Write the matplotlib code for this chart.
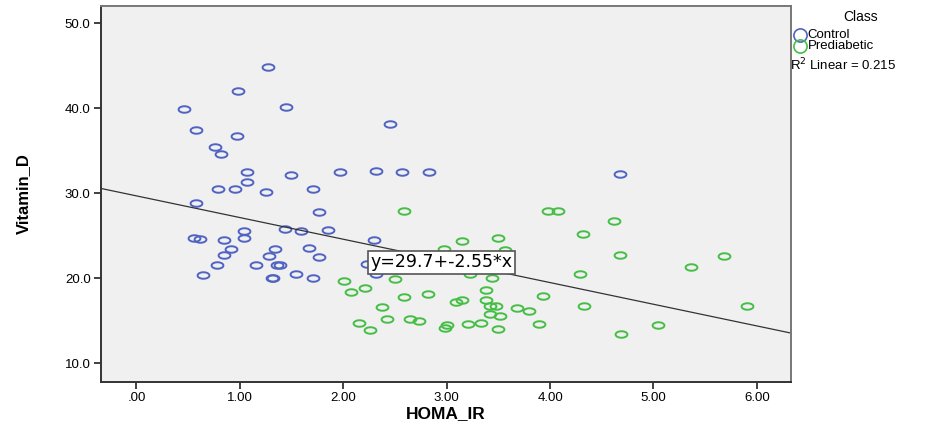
import numpy as np
import matplotlib.pyplot as plt
from matplotlib.path import Path
from matplotlib.lines import Line2D

plt.rcParams['font.family'] = ['Liberation Sans', 'DejaVu Sans']

# Control group (HOMA_IR, Vitamin_D)
control_x = [1.27, 0.98, 0.46, 1.45, 2.45, 0.58, 0.97, 0.76, 0.82, 1.07,
             1.49, 1.97, 2.32, 2.57, 2.83, 4.68, 1.07, 0.79, 0.95, 1.25,
             1.71, 0.58, 1.77, 1.04, 1.44, 1.59, 1.85, 0.56, 0.61, 0.85,
             1.04, 0.91, 1.34, 1.67, 0.85, 1.28, 1.77, 0.78, 1.16, 1.36,
             1.39, 0.64, 1.31, 1.32, 1.54, 1.71, 2.30, 2.23, 2.32]
control_y = [44.9, 42.0, 39.9, 40.1, 38.1, 37.5, 36.7, 35.5, 34.6, 32.5,
             32.1, 32.5, 32.6, 32.5, 32.5, 32.3, 31.3, 30.5, 30.5, 30.2,
             30.5, 28.9, 27.8, 25.6, 25.8, 25.6, 25.7, 24.7, 24.6, 24.5,
             24.7, 23.5, 23.5, 23.6, 22.7, 22.6, 22.5, 21.6, 21.6, 21.6,
             21.6, 20.4, 20.0, 20.0, 20.5, 20.0, 24.5, 21.7, 20.5]

# Prediabetic group
prediab_x = [2.59, 3.98, 4.08, 4.62, 4.32, 2.97, 3.15, 3.50, 3.56, 4.68,
             5.68, 5.36, 2.01, 2.50, 3.23, 3.44, 4.29, 2.07, 2.21, 2.59,
             2.82, 3.38, 3.93, 2.37, 3.09, 3.15, 3.38, 3.42, 3.48, 3.68,
             3.80, 4.33, 5.90, 2.42, 2.65, 2.73, 3.42, 3.52, 2.15, 2.26,
             2.98, 3.00, 3.21, 3.33, 3.50, 3.89, 5.04, 4.69]
prediab_y = [27.9, 27.9, 27.9, 26.7, 25.2, 23.5, 24.4, 24.7, 23.3, 22.8,
             22.6, 21.3, 19.7, 19.9, 20.5, 20.0, 20.5, 18.4, 18.9, 17.8,
             18.2, 18.6, 17.9, 16.6, 17.2, 17.5, 17.5, 16.8, 16.8, 16.5,
             16.2, 16.7, 16.7, 15.2, 15.2, 15.0, 15.8, 15.6, 14.7, 13.9,
             14.2, 14.5, 14.6, 14.7, 14.0, 14.6, 14.5, 13.4]

# fit line reported on the chart
intercept = 29.7
slope = -2.55
r_squared = 0.215

x_ticks = [0, 1, 2, 3, 4, 5, 6]
x_tick_labels = ['.00', '1.00', '2.00', '3.00', '4.00', '5.00', '6.00']
y_ticks = [10, 20, 30, 40, 50]
y_tick_labels = ['10.0', '20.0', '30.0', '40.0', '50.0']

blue = '#4F63C2'
green = '#45BE45'

# flattened ellipse marker, like the SPSS output
t = np.linspace(0, 2 * np.pi, 60)
ellipse = Path(np.column_stack([np.cos(t), 0.55 * np.sin(t)]), closed=True)

fig = plt.figure(figsize=(9.37, 4.25), dpi=100)
ax = fig.add_axes([0.1078, 0.1019, 0.7364, 0.884])
ax.set_facecolor('#F0F0F0')

ax.plot(control_x, control_y, linestyle='none', marker=ellipse, markersize=8.5,
        markerfacecolor='none', markeredgecolor=blue, markeredgewidth=1.4)
ax.plot(prediab_x, prediab_y, linestyle='none', marker=ellipse, markersize=8.5,
        markerfacecolor='none', markeredgecolor=green, markeredgewidth=1.4)

x_min, x_max = -0.343, 6.33
xs = np.array([x_min, x_max])
ax.plot(xs, intercept + slope * xs, color='#333333', linewidth=0.9)

ax.text(2.26, 21.9, f'y={intercept}+{slope}*x', fontsize=12.5, va='center', ha='left',
        family='DejaVu Sans',
        bbox=dict(boxstyle='square,pad=0.15', facecolor='white', edgecolor='#555555', linewidth=1.2))

ax.set_xlim(x_min, x_max)
ax.set_ylim(7.84, 52.04)
ax.set_xticks(x_ticks)
ax.set_xticklabels(x_tick_labels, fontsize=9.5)
ax.set_yticks(y_ticks)
ax.set_yticklabels(y_tick_labels, fontsize=9.5)
ax.tick_params(direction='out', length=5, width=1.3, color='#333333', pad=2.5)

for side in ['left', 'bottom']:
    ax.spines[side].set_color('#333333')
    ax.spines[side].set_linewidth(1.4)
for side in ['top', 'right']:
    ax.spines[side].set_color('#777777')
    ax.spines[side].set_linewidth(1.4)

ax.set_xlabel('HOMA_IR', fontsize=12.5, fontweight='bold')
ax.xaxis.set_label_coords(0.5, -0.064)
ax.set_ylabel('Vitamin_D', fontsize=12, fontweight='bold', labelpad=24)

# legend, drawn by hand to match the SPSS layout
fig.text(0.918, 0.96, 'Class', fontsize=10, ha='center', va='center')
legend_items = [('Control', blue, 0.918), ('Prediabetic', green, 0.892)]
for label, colour, y in legend_items:
    fig.add_artist(Line2D([0.854], [y], transform=fig.transFigure, linestyle='none',
                          marker='o', markersize=9.5, markerfacecolor='none',
                          markeredgecolor=colour, markeredgewidth=1.2))
    fig.text(0.862, y, label, fontsize=9.5, ha='left', va='center')
fig.text(0.843, 0.848, f'R$^2$ Linear = {r_squared}', fontsize=9.5, ha='left', va='center')

fig.savefig('out.png', dpi=100)
